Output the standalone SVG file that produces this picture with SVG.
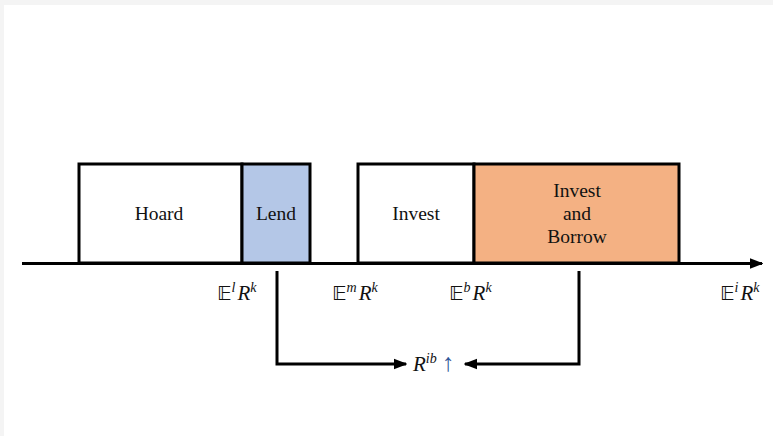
<svg xmlns="http://www.w3.org/2000/svg" width="773" height="436" viewBox="0 0 773 436">
  <defs>
    <style>
      .box { stroke: #000; stroke-width: 3; }
      .lbl { font-family: "Liberation Serif", "DejaVu Serif", serif; font-size: 19.5px; fill: #111; text-anchor: middle; }
      .math { font-family: "Liberation Serif", "DejaVu Serif", serif; font-size: 21px; fill: #111; }
      .bb { font-family: "DejaVu Sans", "Noto Sans", sans-serif; font-style: normal; font-size: 20px; }
      .it { font-style: italic; }
      .sup { font-style: italic; font-size: 14px; }
      .conn { fill: none; stroke: #000; stroke-width: 3; }
    </style>
    <marker id="ah" viewBox="0 0 10 10" refX="9" refY="5" markerWidth="4.6" markerHeight="4.6" orient="auto" markerUnits="strokeWidth">
      <path d="M0,1 L10,5 L0,9 Z" fill="#000"/>
    </marker>
  </defs>
  <rect x="0" y="0" width="773" height="436" fill="#f4f4f4"/>
  <rect x="4" y="5" width="769" height="431" fill="#ffffff"/>

  <g id="connectors">
    <line class="conn" x1="22" y1="263.5" x2="762" y2="263.5" marker-end="url(#ah)"/>
    <path class="conn" d="M277,271 V364 H406" marker-end="url(#ah)"/>
    <path class="conn" d="M579,271 V364 H465" marker-end="url(#ah)"/>
  </g>

  <g id="hoard">
    <rect class="box" x="79" y="164" width="163" height="99" fill="#ffffff"/>
    <text class="lbl" x="159" y="220">Hoard</text>
  </g>
  <g id="lend">
    <rect class="box" x="242" y="164" width="68" height="99" fill="#b4c7e7"/>
    <text class="lbl" x="276" y="220">Lend</text>
  </g>
  <g id="invest">
    <rect class="box" x="358" y="164" width="116" height="99" fill="#ffffff"/>
    <text class="lbl" x="416" y="220">Invest</text>
  </g>
  <g id="invest-borrow">
    <rect class="box" x="474" y="164" width="205" height="99" fill="#f4b183"/>
    <text class="lbl" x="577" y="197">Invest</text>
    <text class="lbl" x="577" y="220">and</text>
    <text class="lbl" x="577" y="243">Borrow</text>
  </g>

  <g id="labels">
    <text class="math" x="217" y="300"><tspan class="bb">𝔼</tspan><tspan class="sup" dy="-8">l</tspan><tspan class="it" dy="8" dx="2">R</tspan><tspan class="sup" dy="-8">k</tspan></text>
    <text class="math" x="332" y="300"><tspan class="bb">𝔼</tspan><tspan class="sup" dy="-8">m</tspan><tspan class="it" dy="8" dx="2">R</tspan><tspan class="sup" dy="-8">k</tspan></text>
    <text class="math" x="449" y="300"><tspan class="bb">𝔼</tspan><tspan class="sup" dy="-8">b</tspan><tspan class="it" dy="8" dx="2">R</tspan><tspan class="sup" dy="-8">k</tspan></text>
    <text class="math" x="720" y="300"><tspan class="bb">𝔼</tspan><tspan class="sup" dy="-8">i</tspan><tspan class="it" dy="8" dx="2">R</tspan><tspan class="sup" dy="-8">k</tspan></text>
    <text class="math" x="413" y="371"><tspan class="it">R</tspan><tspan class="sup" dy="-8">ib</tspan><tspan dy="8" dx="5" fill="#2f5597" font-size="25">↑</tspan></text>
  </g>
</svg>
